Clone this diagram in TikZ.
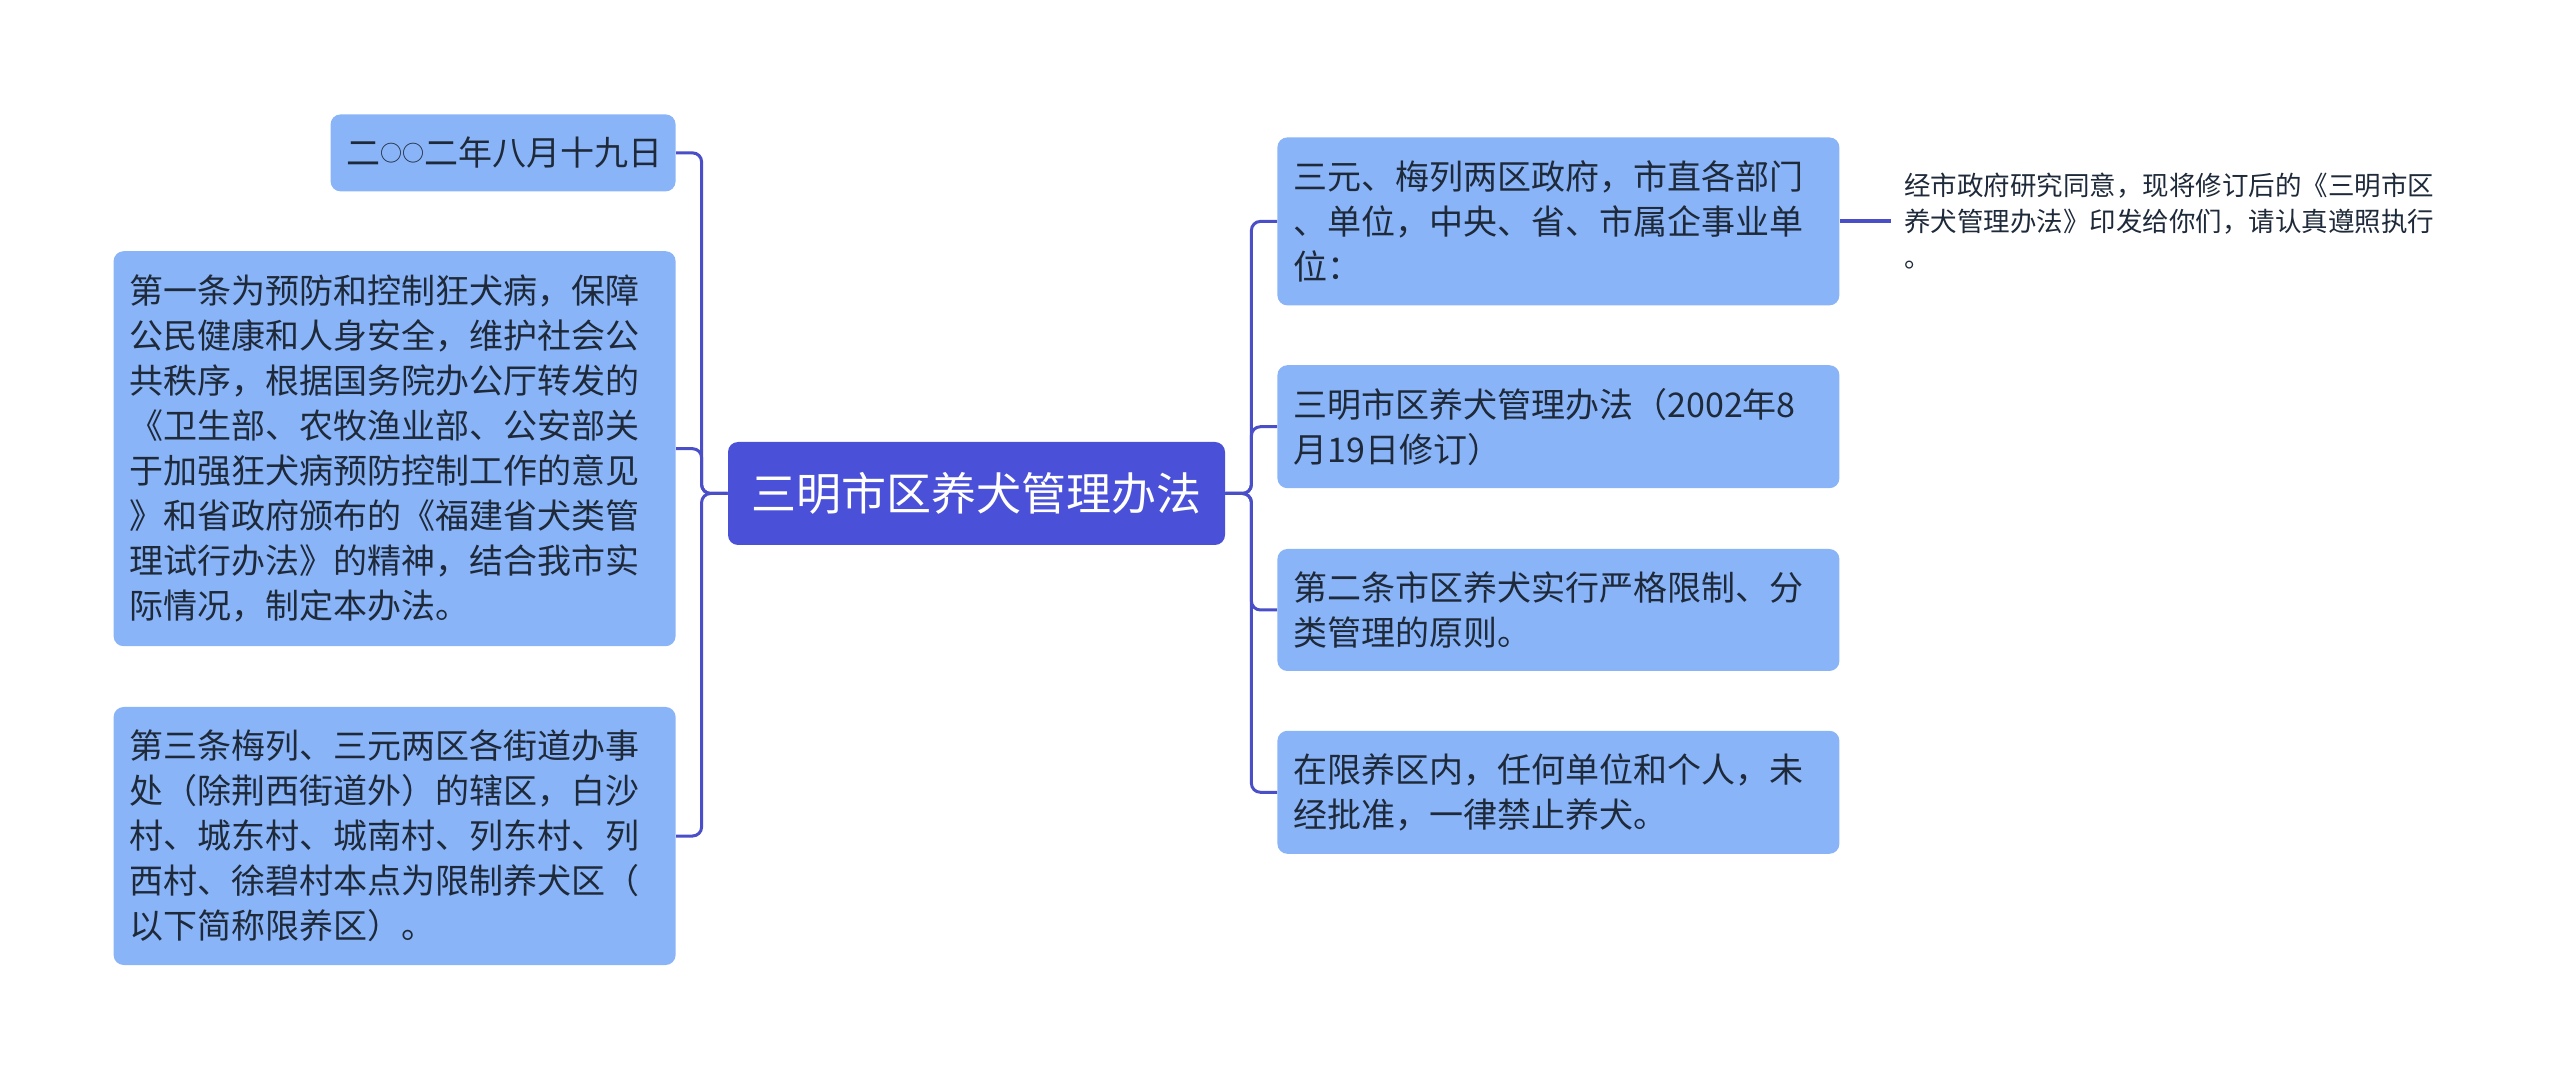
\documentclass[tikz,border=0pt]{standalone}
\usepackage{fontspec}
\setmainfont{Noto Sans CJK SC}
\usetikzlibrary{positioning, calc}

\definecolor{rootblue}{HTML}{4A51D8}
\definecolor{topicblue}{HTML}{8AB4F8}
\definecolor{linkblue}{HTML}{4A4FC7}
\definecolor{inkdark}{HTML}{1E2A3A}

\begin{document}
\begin{tikzpicture}[
    x=0.5pt, y=-0.5pt,
    root/.style={fill=rootblue, rounded corners=5pt, text=white,
      font=\fontsize{22.5pt}{28pt}\selectfont,
      minimum width=248.5pt, minimum height=51.5pt},
    topic/.style={fill=topicblue, rounded corners=5pt, text=inkdark,
      font=\fontsize{17pt}{22.5pt}\selectfont,
      align=left, inner xsep=8pt, text width=265pt},
    leaf/.style={text=inkdark, font=\fontsize{13.25pt}{18pt}\selectfont,
      align=left, inner xsep=6.5pt},
    link/.style={draw=linkblue, line width=1.5pt, rounded corners=4.5pt}]

  \useasboundingbox (0, 0) rectangle (2560, 1079);
  \newcommand\ring{\raisebox{2pt}{\fontsize{11pt}{0pt}\selectfont ○}}

  % main topic
  \node[root] at (976.5, 493.5) (root) {三明市区养犬管理办法};

  % left
  \node[topic, anchor=north east, text width=156.5pt, minimum height=38.5pt]
    at (676, 114) (l-date) {二\ring\ring 二年八月十九日};
  \node[topic, below=29.5pt of l-date.south east, anchor=north east,
    minimum height=197.5pt] (l-art1) {
    第一条为预防和控制狂犬病，保障\\
    公民健康和人身安全，维护社会公\\
    共秩序，根据国务院办公厅转发的\\
    《卫生部、农牧渔业部、公安部关\\
    于加强狂犬病预防控制工作的意见\\
    》和省政府颁布的《福建省犬类管\\
    理试行办法》的精神，结合我市实\\
    际情况，制定本办法。};
  \node[topic, below=30pt of l-art1.south east, anchor=north east,
    minimum height=129pt] (l-art3) {
    第三条梅列、三元两区各街道办事\\
    处（除荆西街道外）的辖区，白沙\\
    村、城东村、城南村、列东村、列\\
    西村、徐碧村本点为限制养犬区（\\
    以下简称限养区）。};

  % right
  \node[topic, anchor=north west, minimum height=84pt]
    at (1277, 137) (r-intro) {
    三元、梅列两区政府，市直各部门\\
    、单位，中央、省、市属企事业单\\
    位：};
  \node[topic, below=29.5pt of r-intro, minimum height=61.5pt] (r-title) {
    三明市区养犬管理办法（2002年8\\
    月19日修订）};
  \node[topic, below=30pt of r-title, minimum height=61pt] (r-art2) {
    第二条市区养犬实行严格限制、分\\
    类管理的原则。};
  \node[topic, below=29.5pt of r-art2, minimum height=61.5pt] (r-ban) {
    在限养区内，任何单位和个人，未\\
    经批准，一律禁止养犬。};
  \node[leaf, right=25.5pt of r-intro] (leaf) {
    经市政府研究同意，现将修订后的《三明市区\\
    养犬管理办法》印发给你们，请认真遵照执行\\
    。};

  % connectors
  \foreach \n in {l-date, l-art1, l-art3}
    \draw[link] (root.west) -- ++(-26, 0) |- (\n.east);
  \foreach \n in {r-intro, r-title, r-art2, r-ban}
    \draw[link] (root.east) -- ++(26, 0) |- (\n.west);
  \draw[link, line width=2pt] (r-intro.east) -- (leaf.west);
\end{tikzpicture}
\end{document}
